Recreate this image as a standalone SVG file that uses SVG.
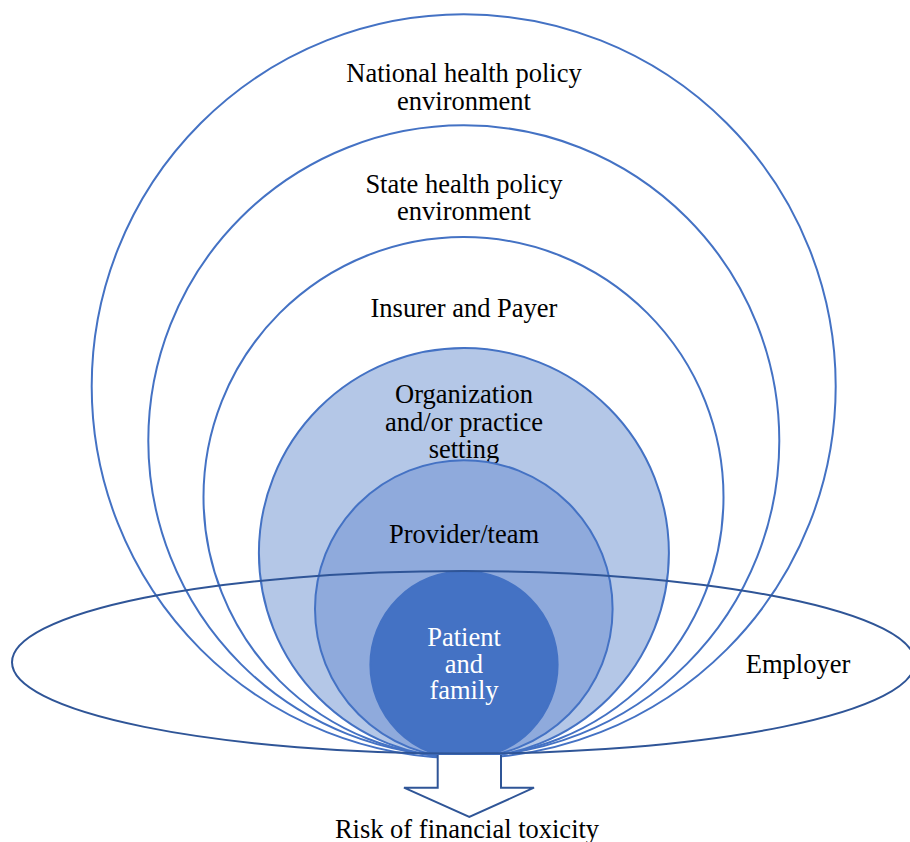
<svg xmlns="http://www.w3.org/2000/svg" width="910" height="842" viewBox="0 0 910 842">
  <style>
    .ring { fill: #FFFFFF; stroke: #4472C4; stroke-width: 2; }
    text { font-family: 'Liberation Serif', 'DejaVu Serif', 'Times New Roman', serif; font-size: 26.5px; fill: #000000; text-anchor: middle; }
    text.lbl-w { fill: #FFFFFF; }
    .edge { fill: none; stroke: #2F5597; stroke-width: 2; }
  </style>
  <rect width="910" height="842" fill="#FFFFFF"/>

  <!-- nested levels, all touching at the bottom -->
  <g id="national">
    <circle class="ring" cx="463.7" cy="386.3" r="372"/>
    <text x="464" y="82">National health policy</text>
    <text x="464" y="110">environment</text>
  </g>
  <g id="state">
    <circle class="ring" cx="463.8" cy="440.8" r="315.5"/>
    <text x="464" y="193">State health policy</text>
    <text x="464" y="220">environment</text>
  </g>
  <g id="insurer">
    <circle class="ring" cx="463.5" cy="497" r="260"/>
    <text x="464" y="317">Insurer and Payer</text>
  </g>
  <g id="organization">
    <circle class="ring" cx="463.9" cy="553" r="205" style="fill:#B4C7E7"/>
    <text x="464" y="403">Organization</text>
    <text x="464" y="431">and/or practice</text>
    <text x="464" y="458">setting</text>
  </g>
  <g id="provider">
    <circle class="ring" cx="463.8" cy="609" r="148.8" style="fill:#8FAADC"/>
    <text x="464" y="543">Provider/team</text>
  </g>
  <g id="patient">
    <circle class="ring" cx="464" cy="664.8" r="93.6" style="fill:#4472C4"/>
    <text class="lbl-w" x="464" y="646">Patient</text>
    <text class="lbl-w" x="464" y="673">and</text>
    <text class="lbl-w" x="464" y="699">family</text>
  </g>

  <!-- outcome arrow -->
  <g id="connectors">
    <path d="M437.7,755 V787.7 H404 L469.3,817 L534,787.7 H501 V755" fill="#FFFFFF" stroke="#2F5597" stroke-width="2" stroke-linejoin="miter"/>
  </g>

  <g id="employer">
    <ellipse class="edge" cx="463.5" cy="662.3" rx="451.5" ry="91.3"/>
    <text x="798" y="673">Employer</text>
  </g>

  <g id="outcome">
    <text x="467" y="838">Risk of financial toxicity</text>
  </g>
</svg>
